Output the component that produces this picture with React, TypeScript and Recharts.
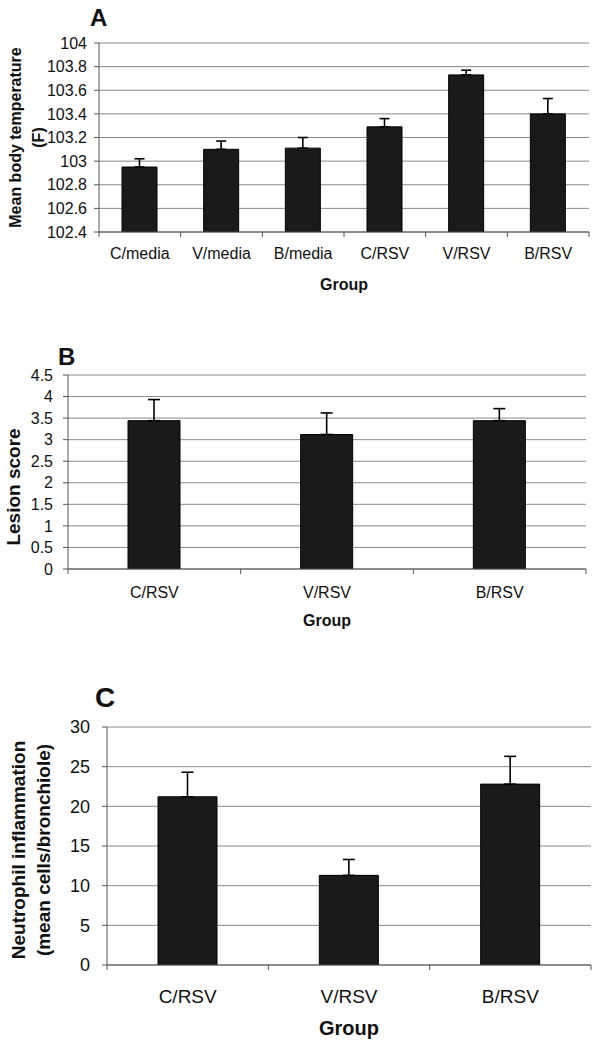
import React from 'react';
import { BarChart, Bar, XAxis, YAxis, CartesianGrid, ErrorBar } from 'recharts';

// ---------- data ----------
const tempGroups = ['C/media', 'V/media', 'B/media', 'C/RSV', 'V/RSV', 'B/RSV'];
const tempMeans = [102.95, 103.1, 103.11, 103.29, 103.73, 103.4];
const tempErrors = [0.07, 0.07, 0.09, 0.07, 0.04, 0.13];
const tempTicks = [102.4, 102.6, 102.8, 103, 103.2, 103.4, 103.6, 103.8, 104];

const rsvGroups = ['C/RSV', 'V/RSV', 'B/RSV'];
const lesionMeans = [3.44, 3.12, 3.44];
const lesionErrors = [0.49, 0.5, 0.28];
const lesionTicks = [0, 0.5, 1, 1.5, 2, 2.5, 3, 3.5, 4, 4.5];

const neutroMeans = [21.2, 11.3, 22.8];
const neutroErrors = [3.1, 2.0, 3.5];
const neutroTicks = [0, 5, 10, 15, 20, 25, 30];

const FONT = 'Arial, "Liberation Sans", Helvetica, sans-serif';
const AXIS = '#555';
const GRID = '#8a8a8a';
const INK = '#111';

function makeRows(cats: string[], means: number[], errs: number[]) {
  return cats.map((c, i) => ({ group: c, mean: means[i], err: [0, errs[i]] }));
}

const XTick = (props: any) => {
  const { x, y, payload, index, visibleTicksCount, gap, fs } = props;
  const off = payload && typeof payload.offset === 'number' ? payload.offset : 0;
  const last = index === visibleTicksCount - 1;
  return (
    <g>
      <line x1={x - off} x2={x - off} y1={y} y2={y + 5} stroke={AXIS} />
      {last && <line x1={x + off} x2={x + off} y1={y} y2={y + 5} stroke={AXIS} />}
      <text x={x} y={y + gap} dy="0.71em" textAnchor="middle" fontSize={fs} fontFamily={FONT} fill={INK}>
        {payload.value}
      </text>
    </g>
  );
};

const YTick = (props: any) => {
  const { y, payload, fs, axisX, len, gap } = props;
  return (
    <g>
      <line x1={axisX - len} x2={axisX} y1={y} y2={y} stroke={AXIS} />
      <text x={axisX - len - gap} y={y} dy="0.355em" textAnchor="end" fontSize={fs} fontFamily={FONT} fill={INK}>
        {String(payload.value)}
      </text>
    </g>
  );
};

const GroupTitle = (props: any) => {
  const vb = props.viewBox || { x: 0, y: 0, width: 0, height: 0 };
  return (
    <text x={vb.x + vb.width / 2} y={vb.y + props.base} textAnchor="middle" fontWeight="bold" fontSize={props.fs} fontFamily={FONT} fill={INK}>
      Group
    </text>
  );
};

const YTitle = (props: any) => {
  const vb = props.viewBox || { x: 0, y: 0, width: 0, height: 0 };
  const cy = vb.y + vb.height / 2 + props.dyCenter;
  return (
    <g>
      {props.lines.map((ln: string, i: number) => {
        const bx = vb.x + props.xs[i];
        return (
          <text key={i} x={bx} y={cy} transform={`rotate(-90, ${bx}, ${cy})`} textAnchor="middle" fontWeight="bold" fontSize={props.fs} fontFamily={FONT} fill={INK}>
            {ln}
          </text>
        );
      })}
      <text x={vb.x + props.letterX} y={vb.y + props.letterDy} fontWeight="bold" fontSize={props.letterFs} fontFamily={FONT} fill={INK}>
        {props.letter}
      </text>
    </g>
  );
};

function Panel(p: any) {
  const data = makeRows(p.categories, p.means, p.errors);
  return (
    <div style={{ position: 'absolute', left: 0, top: p.top, width: 601, height: p.height }}>
      <BarChart
        width={601}
        height={p.height}
        data={data}
        margin={{ top: p.plotTop, right: 601 - p.plotRight, left: 0, bottom: p.height - p.plotBottom - p.xAxisHeight }}
        style={{ fontFamily: FONT }}
      >
        <CartesianGrid vertical={false} stroke={GRID} />
        <XAxis
          dataKey="group"
          height={p.xAxisHeight}
          interval={0}
          tickLine={false}
          tickSize={0}
          tickMargin={0}
          axisLine={{ stroke: AXIS }}
          tick={(t: any) => <XTick {...t} gap={p.xGap} fs={p.xFont} />}
          label={(l: any) => <GroupTitle {...l} base={p.groupBase} fs={p.groupFont} />}
        />
        <YAxis
          width={p.plotLeft}
          domain={p.domain}
          ticks={p.ticks}
          interval={0}
          allowDataOverflow
          tickLine={false}
          tickSize={0}
          tickMargin={0}
          tick={(t: any) => <YTick {...t} fs={p.yFont} axisX={p.plotLeft} len={5} gap={p.yTickMargin} />}
          axisLine={{ stroke: AXIS }}
          label={(l: any) => (
            <YTitle {...l} lines={p.titleLines} xs={p.titleXs} fs={p.titleFont} dyCenter={p.titleDy} letter={p.letter} letterX={p.letterX} letterDy={p.letterDy} letterFs={p.letterFs} />
          )}
        />
        <YAxis yAxisId="r" orientation="right" width={0} domain={p.domain} allowDataOverflow tick={false} tickLine={false} axisLine={{ stroke: AXIS }} />
        <Bar dataKey="mean" fill="#1a1a1a" stroke="#000" barSize={p.barSize} isAnimationActive={false}>
          <ErrorBar dataKey="err" width={p.cap} stroke="#000" strokeWidth={1.6} direction="y" isAnimationActive={false} />
        </Bar>
      </BarChart>
    </div>
  );
}

export default function App() {
  return (
    <div style={{ position: 'absolute', left: 0, top: 0, width: 601, height: 1050, background: '#fff' }}>
      <Panel top={0} height={300} plotLeft={99} plotRight={589} plotTop={43} plotBottom={232} xAxisHeight={60}
        categories={tempGroups} means={tempMeans} errors={tempErrors} domain={[102.4, 104]} ticks={tempTicks}
        barSize={35} cap={5} xFont={16} xGap={16} yFont={16} yTickMargin={7}
        titleLines={['Mean body temperature', '(F)']} titleXs={[21, 44]} titleFont={16} titleDy={0}
        letter="A" letterX={90} letterDy={-17} letterFs={24} groupBase={58} groupFont={16} />
      <Panel top={300} height={345} plotLeft={68} plotRight={586} plotTop={75} plotBottom={269} xAxisHeight={70}
        categories={rsvGroups} means={lesionMeans} errors={lesionErrors} domain={[0, 4.5]} ticks={lesionTicks}
        barSize={52} cap={6} xFont={16} xGap={18} yFont={16} yTickMargin={10}
        titleLines={['Lesion score']} titleXs={[20]} titleFont={19} titleDy={15}
        letter="B" letterX={58} letterDy={-10} letterFs={24} groupBase={57} groupFont={16} />
      <Panel top={645} height={405} plotLeft={107} plotRight={591} plotTop={82} plotBottom={320} xAxisHeight={80}
        categories={rsvGroups} means={neutroMeans} errors={neutroErrors} domain={[0, 30]} ticks={neutroTicks}
        barSize={59} cap={6} xFont={19} xGap={25} yFont={18} yTickMargin={12}
        titleLines={['Neutrophil inflammation', '(mean cells/bronchiole)']} titleXs={[25, 50]} titleFont={19} titleDy={4}
        letter="C" letterX={95} letterDy={-20} letterFs={28} groupBase={70} groupFont={20} />
    </div>
  );
}
